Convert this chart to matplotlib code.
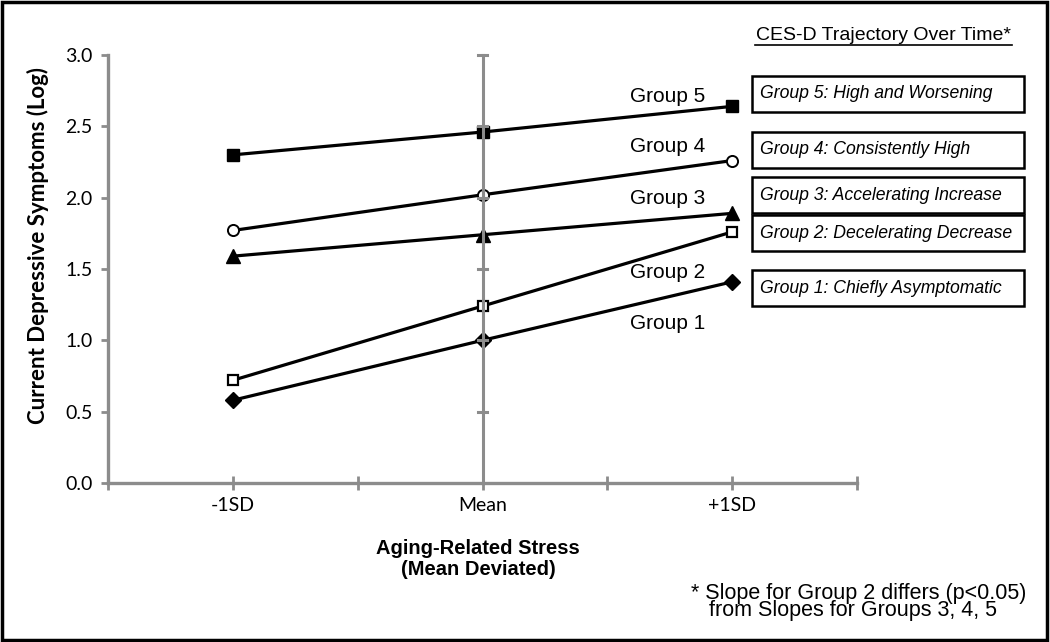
import matplotlib.pyplot as plt
from matplotlib.patches import Rectangle

# stress levels on the x axis
stress_labels = ["-1SD", "Mean", "+1SD"]
stress_pos = [1, 3, 5]

# log CES-D values per trajectory group
group1 = [0.58, 1.00, 1.41]
group2 = [0.72, 1.24, 1.76]
group3 = [1.59, 1.74, 1.89]
group4 = [1.77, 2.02, 2.26]
group5 = [2.30, 2.46, 2.64]

group_names = ["Group 1", "Group 2", "Group 3", "Group 4", "Group 5"]
group_desc = [
    "Group 1: Chiefly Asymptomatic",
    "Group 2: Decelerating Decrease",
    "Group 3: Accelerating Increase",
    "Group 4: Consistently High",
    "Group 5: High and Worsening",
]

GRAY = "#8c8c8c"


def main():
    fig = plt.figure(figsize=(10.5, 6.42), dpi=100)
    ax = fig.add_axes([108 / 1050, 1 - 483 / 642, (857 - 108) / 1050, (483 - 55) / 642])

    styles = [
        dict(marker="D", ms=8, mfc="black", mec="black"),
        dict(marker="s", ms=7, mfc="white", mec="black", mew=1.6),
        dict(marker="^", ms=10, mfc="black", mec="black"),
        dict(marker="o", ms=8, mfc="white", mec="black", mew=1.4),
        dict(marker="s", ms=8, mfc="black", mec="black"),
    ]
    series = [group1, group2, group3, group4, group5]

    for vals, st in zip(series, styles):
        ax.plot(stress_pos, vals, color="black", lw=2.3, zorder=3, **st)

    # vertical reference line at the mean (drawn over the markers), with its own ticks
    ax.axvline(3, color=GRAY, lw=2.2, zorder=4)
    for yv in [0.5, 1.0, 1.5, 2.0, 2.5, 3.0]:
        ax.plot([3 - 0.04, 3 + 0.04], [yv, yv], color=GRAY, lw=2.2, zorder=4)

    ax.set_xlim(0, 6)
    ax.set_ylim(0, 3)
    ax.set_xticks(range(7))
    ax.set_xticklabels(["", stress_labels[0], "", stress_labels[1], "", stress_labels[2], ""],
                       fontsize=14, family="Lato")
    ax.set_yticks([0, 0.5, 1.0, 1.5, 2.0, 2.5, 3.0])
    ax.set_yticklabels(["0.0", "0.5", "1.0", "1.5", "2.0", "2.5", "3.0"],
                       fontsize=14, family="Lato")
    ax.tick_params(axis="x", direction="inout", length=10, width=2, color=GRAY, pad=5)
    ax.tick_params(axis="y", direction="out", length=5, width=2, color=GRAY, pad=6)
    for s in ["top", "right"]:
        ax.spines[s].set_visible(False)
    for s in ["left", "bottom"]:
        ax.spines[s].set_color(GRAY)
        ax.spines[s].set_linewidth(2.4)
    for ln in ax.lines:
        ln.set_clip_on(False)

    fig.text(38 / 1050, 1 - 246 / 642, "Current Depressive Symptoms (Log)", rotation=90,
             ha="center", va="center", fontsize=16, fontweight="bold", family="Lato")
    fig.text(478 / 1050, 1 - 559 / 642, "Aging-Related Stress\n(Mean Deviated)",
             ha="center", va="center", fontsize=14.5, fontweight="bold",
             family="Liberation Sans", linespacing=1.1)

    # group labels beside the lines
    label_y = [324, 273, 199, 147, 97]
    for name, py in zip(group_names, label_y):
        fig.text(630 / 1050, 1 - py / 642, name, ha="left", va="center",
                 fontsize=15, family="Liberation Sans")

    # legend title and boxes
    fig.text(883 / 1050, 1 - 35 / 642, "CES-D Trajectory Over Time*", ha="center",
             va="center", fontsize=14, family="Liberation Sans")
    fig.add_artist(plt.Line2D([755 / 1050, 1012 / 1050], [1 - 45 / 642, 1 - 45 / 642],
                              color="black", lw=1.2))
    box_tops = [270, 215, 177, 132, 76]
    box_h = 36
    for desc, top in zip(group_desc, box_tops):
        fig.add_artist(Rectangle((752 / 1050, 1 - (top + box_h) / 642), 272 / 1050,
                                 box_h / 642, fill=False, ec="black", lw=1.8,
                                 transform=fig.transFigure))
        fig.text(760 / 1050, 1 - (top + box_h / 2) / 642, desc, ha="left", va="center",
                 fontsize=12.7, style="italic", family="Liberation Sans")

    fig.text(691 / 1050, 1 - 602 / 642,
             "* Slope for Group 2 differs (p<0.05)\n   from Slopes for Groups 3, 4, 5",
             ha="left", va="center", fontsize=15.5, family="Liberation Sans",
             linespacing=0.78)

    # frame around the whole figure
    fig.add_artist(Rectangle((0.002, 0.003), 0.995, 0.994, fill=False, ec="black", lw=2.5,
                             transform=fig.transFigure))

    plt.savefig("out.png", dpi=100)


if __name__ == "__main__":
    main()
